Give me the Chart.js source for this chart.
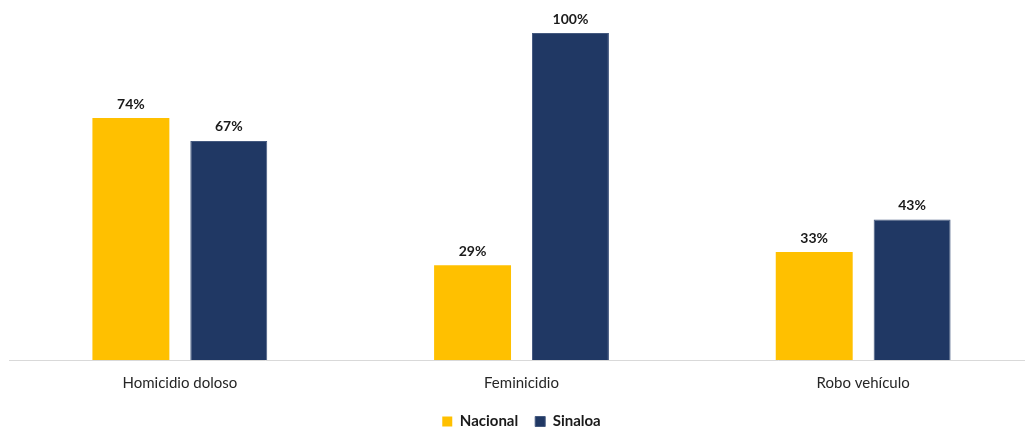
<!DOCTYPE html>
<html>
<head>
<meta charset="utf-8">
<script src="https://cdn.jsdelivr.net/npm/chart.js@4/dist/chart.umd.min.js"></script>
<style>
  html, body { margin: 0; padding: 0; background: #ffffff; overflow: hidden; }
  #frame { width: 1025px; height: 431px; overflow: hidden; position: relative; }
  /* canvas runs a little past the frame so the category bands line up with the original */
  #wrap { width: 1034px; height: 439px; position: relative; }
</style>
</head>
<body>
<div id="frame"><div id="wrap"><canvas id="chart"></canvas></div></div>
<script>
// ===== Data =====
var categories = ["Homicidio doloso", "Feminicidio", "Robo vehículo"];
var nacional = [74, 29, 33];
var sinaloa = [67, 100, 43];

// Draws the percent labels above each bar
var valueLabels = {
  id: "valueLabels",
  afterDatasetsDraw: function(chart) {
    var ctx = chart.ctx;
    ctx.save();
    ctx.font = "bold 14px Lato, sans-serif";
    ctx.fillStyle = "#1a1a1a";
    ctx.textAlign = "center";
    ctx.textBaseline = "bottom";
    chart.data.datasets.forEach(function(ds, i) {
      chart.getDatasetMeta(i).data.forEach(function(bar, j) {
        ctx.fillText(ds.data[j] + "%", bar.x, bar.y - 7);
      });
    });
    ctx.restore();
  }
};

new Chart(document.getElementById("chart"), {
  type: "bar",
  data: {
    labels: categories,
    datasets: [
      {
        label: "Nacional",
        data: nacional,
        backgroundColor: "#ffc000",
        borderColor: "#ffc000",
        borderWidth: 0
      },
      {
        label: "Sinaloa",
        data: sinaloa,
        backgroundColor: "#203864",
        borderColor: "#44597f",
        borderWidth: 1
      }
    ]
  },
  options: {
    responsive: true,
    maintainAspectRatio: false,
    animation: false,
    categoryPercentage: 0.573,
    barPercentage: 0.786,
    layout: { padding: { top: 33, left: 9, right: 0, bottom: 0 } },
    scales: {
      x: {
        grid: { display: false, drawTicks: false },
        border: { display: true, color: "#d9d9d9", width: 1 },
        ticks: {
          color: "#262626",
          font: { size: 15, family: "Lato, sans-serif" },
          padding: 14
        },
        afterFit: function(scale) { scale.height = 37; }
      },
      y: {
        display: false,
        min: 0,
        max: 100
      }
    },
    plugins: {
      legend: {
        position: "bottom",
        labels: {
          boxWidth: 10,
          boxHeight: 10,
          padding: 17,
          color: "#1a1a1a",
          font: { size: 15, weight: "bold", family: "Lato, sans-serif" }
        }
      },
      tooltip: { enabled: false }
    }
  },
  plugins: [valueLabels]
});
</script>
</body>
</html>
